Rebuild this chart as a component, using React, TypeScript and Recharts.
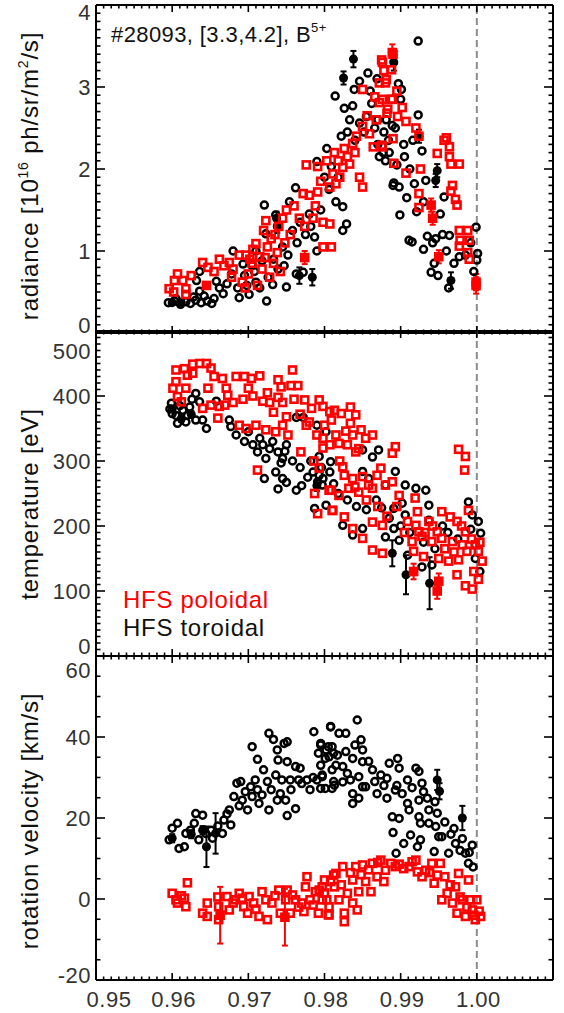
import { ScatterChart, Scatter, XAxis, YAxis, ReferenceLine, ErrorBar } from 'recharts'

// ---------- axes ----------
const xMajor = [0.95, 0.96, 0.97, 0.98, 0.99, 1.0, 1.01]
const xLabels = ['0.95', '0.96', '0.97', '0.98', '0.99', '1.00']
const radMajor = [0, 1, 2, 3, 4]
const teMajor = [0, 100, 200, 300, 400, 500]
const vMajor = [-20, 0, 20, 40, 60]

// ---------- radiance [1e16 ph/sr/m2/s] ----------
const radTor = [
  [0.9595, 0.37], [0.9603, 0.39], [0.9611, 0.35], [0.9618, 0.38], [0.9624, 0.36], [0.9631, 0.4], [0.9638, 0.37],
  [0.9646, 0.39], [0.9652, 0.36], [0.9605, 0.42], [0.9628, 0.44], [0.9636, 0.51], [0.9632, 0.64], [0.9636, 0.75],
  [0.9658, 0.63], [0.9667, 0.48], [0.968, 1.0], [0.9693, 0.84], [0.9688, 0.43], [0.9701, 0.47], [0.9715, 0.55],
  [0.9724, 0.39], [0.9732, 0.59], [0.9739, 0.78], [0.975, 0.56], [0.971, 0.62], [0.9695, 0.7], [0.9705, 0.82],
  [0.9718, 0.88], [0.9745, 1.05], [0.9768, 1.35], [0.971, 1.0], [0.9723, 1.21], [0.9721, 1.56], [0.9736, 1.44],
  [0.9739, 1.29], [0.9754, 1.6], [0.9762, 1.77], [0.978, 1.45], [0.9787, 1.17], [0.979, 1.0], [0.9763, 0.72],
  [0.9772, 0.74], [0.979, 2.09], [0.9803, 2.25], [0.9809, 2.03], [0.9815, 1.6], [0.9824, 1.54], [0.9824, 1.25],
  [0.9829, 1.33], [0.9814, 2.89], [0.9826, 2.74], [0.9837, 2.77], [0.9839, 2.97], [0.9846, 3.07], [0.9857, 3.17],
  [0.9833, 2.6], [0.9846, 2.56], [0.9855, 2.64], [0.987, 2.6], [0.9881, 2.6], [0.9872, 2.15], [0.9877, 2.2],
  [0.989, 1.8], [0.9923, 3.56], [0.9897, 3.04], [0.9901, 2.97], [0.99, 2.85], [0.9923, 2.66], [0.9889, 2.53],
  [0.9893, 2.5], [0.9928, 2.22], [0.987, 2.3], [0.988, 2.1], [0.9895, 2.05], [0.9905, 2.15], [0.9912, 2.0],
  [0.9885, 2.2], [0.9891, 1.83], [0.9898, 1.78], [0.9918, 1.82], [0.9933, 1.86], [0.9957, 1.66], [0.9899, 1.44],
  [0.9921, 1.48], [0.9911, 1.13], [0.9915, 1.11], [0.9935, 1.18], [0.9942, 1.1], [0.9946, 1.15], [0.9955, 1.2],
  [0.9964, 1.19], [0.993, 1.02], [0.9944, 0.85], [0.994, 0.74], [0.9949, 0.7], [0.9963, 0.55], [0.9999, 1.29],
  [1.0001, 0.97], [1.0, 0.89], [0.9977, 0.93],
  [0.9642, 0.45], [0.9655, 0.42], [0.9662, 0.55], [0.9672, 0.6], [0.9678, 0.72], [0.9686, 0.55], [0.9698, 0.58],
  [0.9708, 0.75], [0.9726, 0.68], [0.9733, 0.9], [0.9747, 0.82], [0.9752, 0.95], [0.9758, 1.25], [0.9764, 1.1],
  [0.9775, 1.2], [0.9782, 1.3], [0.9795, 1.5], [0.98, 1.9], [0.9806, 1.75], [0.9818, 1.9], [0.9822, 2.4],
  [0.983, 2.45], [0.984, 2.35], [0.9852, 2.45], [0.9862, 2.8], [0.9866, 2.5], [0.9878, 2.45], [0.9884, 2.35],
  [0.986, 2.95], [0.9869, 3.1], [0.9904, 2.3], [0.9916, 2.35], [0.9908, 1.65], [0.993, 1.6], [0.9952, 1.45],
  [0.996, 1.0], [0.997, 0.85], [0.9985, 0.95], [0.9992, 1.1], [0.9996, 0.75],
]
const radTorErr = [
  [0.9825, 3.11, 0.08], [0.9838, 3.34, 0.1], [0.9891, 3.3, 0.1], [0.9924, 2.4, 0.08], [0.9948, 1.98, 0.08],
  [0.9946, 1.86, 0.08], [0.9966, 0.64, 0.1], [0.9737, 1.4, 0.08], [0.9738, 1.3, 0.08], [0.9767, 0.7, 0.1],
  [0.9784, 0.68, 0.1], [0.96, 0.37, 0.03], [0.9612, 0.37, 0.03],
]
const radPol = [
  [0.9596, 0.54], [0.9603, 0.64], [0.9607, 0.72], [0.9614, 0.64], [0.9618, 0.54], [0.9618, 0.47], [0.964, 0.86],
  [0.9647, 0.8], [0.9662, 0.9], [0.9675, 0.86], [0.968, 0.78], [0.9678, 0.68], [0.9688, 0.95], [0.9697, 0.95],
  [0.9706, 1.02], [0.971, 1.09], [0.9692, 0.62], [0.97, 0.72], [0.9705, 0.85], [0.9712, 0.58], [0.9718, 0.78],
  [0.9722, 0.92], [0.9728, 0.68], [0.9733, 0.85], [0.9738, 0.98], [0.9742, 0.75], [0.9696, 0.55], [0.9715, 0.93],
  [0.9723, 1.37], [0.972, 1.25], [0.973, 1.15], [0.974, 1.3], [0.9748, 1.1], [0.9755, 1.2], [0.975, 1.5],
  [0.9767, 1.4], [0.9774, 1.3], [0.9785, 1.4], [0.9798, 1.35], [0.9807, 1.33], [0.9772, 1.7], [0.978, 1.68],
  [0.9791, 1.72], [0.9807, 1.78], [0.9815, 1.82], [0.9776, 2.05], [0.9791, 2.03], [0.9798, 1.05], [0.9809, 1.05],
  [0.9811, 1.94], [0.9824, 2.02], [0.9833, 2.06], [0.9826, 2.25], [0.9837, 2.31], [0.9818, 2.1], [0.983, 2.15],
  [0.984, 2.2], [0.982, 1.9], [0.9842, 2.4], [0.985, 2.52], [0.9859, 2.43], [0.9864, 2.27], [0.9875, 2.29],
  [0.985, 2.97], [0.9866, 2.88], [0.9872, 2.81], [0.9883, 2.73], [0.9888, 2.85], [0.9872, 3.05], [0.9881, 3.09],
  [0.9888, 3.21], [0.9875, 3.33], [0.989, 3.4], [0.985, 1.78], [0.9846, 1.9], [0.9876, 3.3], [0.9878, 3.2],
  [0.988, 3.05], [0.9876, 2.85], [0.9889, 2.85], [0.9882, 2.68], [0.9896, 2.64], [0.9907, 2.58], [0.992, 2.5],
  [0.9924, 2.4], [0.989, 2.37], [0.9876, 2.27], [0.9891, 2.07], [0.9907, 1.95], [0.9926, 2.0], [0.9948, 2.19],
  [0.9957, 2.35], [0.996, 2.38], [0.9964, 2.27], [0.9964, 2.15], [0.9966, 2.06], [0.9977, 2.06], [0.9968, 1.8],
  [0.9966, 1.73], [0.9972, 1.63], [0.9974, 1.56], [0.9924, 1.7], [0.9924, 1.53], [0.9977, 1.25], [0.9988, 1.25],
  [0.9978, 1.13], [0.999, 1.13], [0.9977, 1.06], [0.9988, 0.98], [0.999, 0.9],
  [0.9602, 0.5], [0.9625, 0.7], [0.9655, 0.75], [0.9668, 0.82], [0.9702, 0.9], [0.9725, 1.05], [0.9735, 1.2],
  [0.9745, 1.4], [0.976, 1.55], [0.9788, 1.55], [0.9795, 1.85], [0.9803, 2.1], [0.9813, 2.2], [0.9856, 2.65],
  [0.9868, 2.6], [0.9895, 2.95], [0.9902, 2.75],
]
const radPolErr = [
  [0.9889, 3.42, 0.1], [0.994, 1.56, 0.08], [0.9942, 1.4, 0.08], [0.995, 0.93, 0.08], [0.9999, 0.62, 0.1],
  [0.9999, 0.58, 0.1], [0.9774, 0.92, 0.08], [0.9645, 0.58, 0.03],
]

// ---------- temperature [eV] ----------
const teTor = [
  [0.9599, 389], [0.96, 373], [0.9607, 358], [0.9605, 370], [0.9614, 378], [0.9618, 360], [0.9623, 383],
  [0.9597, 380], [0.961, 385], [0.962, 370], [0.9626, 395], [0.9631, 404], [0.9636, 391], [0.9631, 363],
  [0.9645, 350], [0.964, 363], [0.9658, 392], [0.9675, 363], [0.9677, 353], [0.9684, 340], [0.9695, 330],
  [0.9706, 325], [0.9712, 314], [0.9719, 325], [0.9723, 304], [0.9728, 319], [0.9739, 314], [0.9745, 304],
  [0.975, 325], [0.9721, 273], [0.9736, 283], [0.9743, 297], [0.9745, 273], [0.975, 267], [0.9739, 257],
  [0.9763, 255], [0.9763, 367], [0.9772, 367], [0.979, 355], [0.9802, 345], [0.9778, 275], [0.9785, 283],
  [0.9791, 268], [0.9798, 273], [0.9807, 283], [0.9787, 227], [0.9802, 232], [0.9793, 307], [0.9808, 299],
  [0.9797, 263], [0.9793, 278], [0.985, 317], [0.9863, 306], [0.9871, 317], [0.985, 284], [0.9858, 273],
  [0.988, 263], [0.9893, 284], [0.9906, 263], [0.992, 258], [0.9933, 255], [0.9937, 232], [0.9824, 201],
  [0.9837, 186], [0.985, 196], [0.9885, 212], [0.9891, 196], [0.9898, 178], [0.988, 183], [0.9891, 227],
  [0.9902, 235], [0.9906, 217], [0.9937, 209], [0.9989, 237], [0.9994, 217], [1.0002, 207], [1.0005, 189],
  [0.9998, 171], [0.9909, 155], [0.9928, 137], [0.9941, 140],
  [0.97, 345], [0.9715, 335], [0.9732, 330], [0.9748, 315], [0.9758, 300], [0.9768, 290], [0.977, 262],
  [0.9782, 300], [0.9796, 290], [0.9812, 265], [0.9818, 250], [0.983, 240], [0.9842, 230], [0.9855, 225],
  [0.9868, 240], [0.9875, 228], [0.99, 200], [0.9912, 190], [0.993, 175], [0.9945, 165], [0.9955, 200],
  [0.9962, 190], [0.9975, 180], [0.9992, 195], [0.9998, 150], [1.0004, 130],
]
const teTorErr = [
  [0.9889, 158, 20], [0.9907, 125, 30], [0.9938, 112, 40], [0.96, 380, 5], [0.9612, 365, 5], [0.9625, 372, 5],
  [0.979, 262, 8],
]
const tePol = [
  [0.9605, 440], [0.9616, 442], [0.9627, 449], [0.9636, 450], [0.9645, 450], [0.9651, 443], [0.9601, 412],
  [0.9605, 422], [0.9607, 399], [0.9612, 391], [0.9618, 412], [0.962, 432], [0.9627, 435], [0.9647, 412],
  [0.9655, 430], [0.964, 381], [0.9651, 386], [0.9662, 384], [0.9669, 386], [0.966, 366], [0.9666, 427],
  [0.9671, 412], [0.9673, 401], [0.9684, 430], [0.9695, 430], [0.9704, 427], [0.9715, 431], [0.968, 390],
  [0.9693, 395], [0.9706, 400], [0.9719, 392], [0.9728, 390], [0.9739, 398], [0.9745, 390], [0.9688, 355],
  [0.9697, 350], [0.971, 355], [0.9723, 348], [0.9736, 345], [0.9745, 355], [0.9752, 340], [0.9739, 425],
  [0.9743, 414], [0.9756, 416], [0.9765, 416], [0.9758, 440], [0.9774, 394], [0.9783, 381], [0.9793, 394],
  [0.9798, 384], [0.9807, 376], [0.9809, 363], [0.9776, 355], [0.979, 340], [0.9798, 335], [0.9807, 325],
  [0.9798, 320], [0.9769, 314], [0.9793, 289], [0.9712, 286], [0.9787, 250], [0.9809, 255], [0.9791, 219],
  [0.9811, 224], [0.9813, 378], [0.9822, 373], [0.9834, 383], [0.9841, 371], [0.9834, 358], [0.98, 355],
  [0.9815, 340], [0.9819, 327], [0.9828, 346], [0.9837, 340], [0.9848, 348], [0.9854, 335], [0.9863, 340],
  [0.983, 325], [0.9841, 314], [0.9845, 319], [0.9893, 322], [0.9889, 312], [0.9824, 291], [0.9826, 278],
  [0.9837, 273], [0.985, 276], [0.9858, 263], [0.9869, 278], [0.9874, 289], [0.9806, 255], [0.9819, 247],
  [0.9832, 258], [0.9845, 252], [0.9863, 258], [0.988, 263], [0.9889, 268], [0.9898, 247], [0.981, 224],
  [0.9826, 214], [0.9837, 196], [0.985, 181], [0.9863, 206], [0.9876, 201], [0.9863, 163], [0.9876, 158],
  [0.9919, 243], [0.9922, 222], [0.9909, 207], [0.992, 201], [0.9924, 191], [0.9937, 207], [0.9948, 191],
  [0.9954, 222], [0.9965, 214], [0.9974, 207], [0.9985, 191], [0.9989, 224], [0.9915, 176], [0.9928, 184],
  [0.9941, 176], [0.9954, 181], [0.9968, 176], [0.9981, 171], [0.9917, 161], [0.993, 153], [0.995, 150],
  [0.9963, 146], [0.9976, 148], [0.9987, 161], [0.9998, 171], [1.0002, 161], [1.0007, 146], [0.9974, 125],
  [0.9985, 108], [0.9994, 103], [1.0002, 118], [0.9996, 130], [0.9976, 318], [0.9985, 307], [0.9984, 286],
  [0.97, 412], [0.9725, 405], [0.9733, 375], [0.975, 368], [0.976, 395], [0.9768, 372], [0.978, 360],
  [0.9786, 300], [0.982, 300], [0.984, 260], [0.9855, 240], [0.987, 230], [0.9882, 215], [0.9895, 230],
  [0.9905, 190], [0.9932, 190], [0.9942, 200], [0.9958, 165], [0.997, 160], [0.998, 200], [0.9993, 180],
  [1.0004, 175],
]
const tePolErr = [
  [0.9917, 130, 12], [0.995, 115, 12], [0.9948, 100, 12],
]

// ---------- rotation velocity [km/s] ----------
const vTor = [
  [0.9596, 14.6], [0.96, 17.5], [0.9607, 18.7], [0.9609, 12.5], [0.9616, 12.9], [0.9618, 16.2], [0.9624, 17.0],
  [0.9629, 18.7], [0.9631, 21.1], [0.964, 20.7], [0.9635, 14.6], [0.9644, 16.2], [0.9651, 17.0], [0.9653, 15.0],
  [0.9666, 16.2], [0.9668, 19.5], [0.9675, 22.0], [0.9677, 18.3], [0.9681, 25.3], [0.9685, 28.6], [0.969, 29.0],
  [0.9692, 24.4], [0.9699, 22.0], [0.9703, 27.7], [0.9705, 25.3], [0.9709, 29.4], [0.9714, 23.6], [0.9718, 25.7],
  [0.972, 31.9], [0.9725, 29.0], [0.9727, 22.0], [0.9736, 30.6], [0.9738, 24.4], [0.9744, 29.4], [0.9749, 24.4],
  [0.9751, 20.6], [0.9762, 22.3], [0.9705, 37.6], [0.9712, 34.5], [0.9727, 40.9], [0.9733, 39.4], [0.9738, 36.8],
  [0.9739, 34.3], [0.9747, 38.4], [0.9751, 38.8], [0.9751, 33.9], [0.9762, 32.7], [0.9768, 32.3], [0.9755, 29.4],
  [0.9766, 29.4], [0.9777, 29.4], [0.9781, 27.0], [0.979, 29.4], [0.9797, 30.6], [0.9801, 27.3], [0.981, 27.3],
  [0.9812, 29.0], [0.9786, 41.3], [0.9795, 38.0], [0.9792, 36.0], [0.9801, 34.7], [0.9805, 37.6], [0.9808, 42.5],
  [0.9812, 36.0], [0.9808, 42.6], [0.9819, 40.9], [0.9828, 40.9], [0.9843, 44.2], [0.9848, 39.3], [0.985, 36.8],
  [0.9795, 38.4], [0.9802, 36.8], [0.981, 37.6], [0.9806, 35.1], [0.9817, 35.5], [0.9828, 36.4], [0.9837, 34.7],
  [0.985, 33.9], [0.9797, 30.2], [0.9813, 28.1], [0.9824, 28.9], [0.9834, 29.4], [0.9845, 30.2], [0.985, 27.7],
  [0.9837, 26.0], [0.9845, 24.9], [0.9837, 23.6], [0.9854, 27.7], [0.981, 31.9], [0.9824, 32.7], [0.9795, 27.3],
  [0.9863, 31.9], [0.9874, 30.6], [0.9882, 29.8], [0.9885, 33.5], [0.9896, 34.7], [0.9898, 32.3], [0.9909, 29.4],
  [0.992, 32.3], [0.9924, 31.5], [0.9928, 28.6], [0.9869, 26.0], [0.9882, 24.9], [0.9893, 26.9], [0.9902, 26.0],
  [0.9909, 23.6], [0.9911, 22.0], [0.9924, 24.4], [0.9935, 24.9], [0.9889, 20.3], [0.9898, 19.9], [0.9924, 20.3],
  [0.9926, 18.7], [0.9937, 22.0], [0.9937, 18.7], [0.9948, 21.2], [0.9946, 17.9], [0.995, 15.4], [0.9954, 15.4],
  [0.989, 16.4], [0.9904, 13.7], [0.9913, 15.8], [0.9922, 12.9], [0.9926, 14.6], [0.9944, 11.7], [0.9963, 11.3],
  [0.997, 17.4], [0.9972, 13.7], [0.9981, 14.9], [0.9985, 11.3], [0.9994, 13.3], [0.9989, 8.8], [0.9995, 7.9],
  [0.9894, 11.3],
  [0.966, 18], [0.9672, 21], [0.9688, 23], [0.9696, 26.5], [0.9712, 27], [0.973, 27], [0.9742, 26],
  [0.9756, 27], [0.977, 28.5], [0.9785, 30], [0.9795, 33], [0.9815, 33], [0.983, 31], [0.984, 38],
  [0.9858, 34], [0.9866, 29], [0.9878, 28], [0.9895, 28], [0.9915, 27.5], [0.993, 26.5], [0.9945, 24],
  [0.9958, 19], [0.9966, 16], [0.9978, 12], [0.999, 11.5],
]
const vTorErr = [
  [0.9645, 12.9, 5], [0.9657, 16.2, 5], [0.9948, 29.4, 2.5], [0.9951, 26.6, 2], [0.9981, 20.0, 3],
  [0.96, 15.0, 1], [0.9625, 16.0, 1], [0.964, 17.0, 1],
]
const vPol = [
  [0.96, 1.4], [0.9605, -0.2], [0.9607, -1.0], [0.9616, 0.2], [0.9618, -1.9], [0.962, 4.0], [0.964, -3.5],
  [0.9646, -1.0], [0.9646, -4.3], [0.9661, -1.9], [0.9661, -5.1], [0.9672, 0.6], [0.9675, -2.7], [0.9683, -0.2],
  [0.9688, 1.4], [0.9694, -1.9], [0.9699, -3.5], [0.9701, 0.6], [0.9707, -1.0], [0.9714, -4.3], [0.9718, 1.8],
  [0.9723, -0.2], [0.9725, -5.1], [0.9731, -1.0], [0.974, 2.2], [0.9742, -3.5], [0.9749, -0.2], [0.9751, 2.2],
  [0.9755, -3.5], [0.9762, -0.2], [0.977, -1.0], [0.9773, -3.1], [0.9775, 3.0], [0.9777, 5.5], [0.9781, -0.2],
  [0.9788, 1.8], [0.9792, -3.5], [0.9797, 3.0], [0.9803, -0.2], [0.9808, 4.3], [0.9805, -3.9], [0.9812, 5.9],
  [0.9793, 2.2], [0.98, 4.7], [0.9797, -0.2], [0.9806, -1.9], [0.9806, -3.9], [0.9813, 3.0], [0.9815, 6.3],
  [0.9819, -0.2], [0.9824, 8.0], [0.9826, -3.5], [0.9826, -5.6], [0.983, 1.4], [0.9837, 4.7], [0.9837, -1.0],
  [0.9841, 8.0], [0.9843, -2.7], [0.9845, 1.8], [0.985, 8.4], [0.9854, 4.3], [0.9861, 1.8], [0.9863, 8.8],
  [0.9869, 5.5], [0.9874, 9.6], [0.9878, 4.3], [0.988, 7.1], [0.9887, 8.8], [0.9893, 8.0], [0.9904, 7.5],
  [0.9911, 8.0], [0.992, 9.6], [0.9922, 6.7], [0.9928, 5.5], [0.9933, 7.1], [0.9941, 8.8], [0.9944, 3.9],
  [0.9952, 8.8], [0.9948, 5.9], [0.9954, -0.2], [0.9961, 1.4], [0.9968, -1.0], [0.9972, 3.0], [0.9974, -3.5],
  [0.9976, 6.3], [0.9981, -0.2], [0.9985, -4.3], [0.9989, 4.7], [0.9992, -0.2], [0.9994, -2.7], [0.9998, -5.1],
  [1.0, -0.2], [1.0005, -4.3],
  [0.9612, 0.8], [0.966, 0.5], [0.968, -1], [0.9692, 0.2], [0.971, -2.5], [0.9735, 0.8], [0.9758, 1.0],
  [0.9766, -2], [0.9785, -1.5], [0.98, 1.5], [0.9822, 3.5], [0.9834, 6.5], [0.9848, 6], [0.9858, 7.2],
  [0.987, 9], [0.9898, 8.6], [0.9915, 9.2], [0.9938, 6.5], [0.9958, 5.5], [0.9965, 3.5], [0.9978, 0.5],
  [0.9987, -2], [0.9996, -4], [1.0003, -3],
]
const vPolErr = [
  [0.9663, -4.0, 7], [0.9748, -4.5, 7],
]

const FONT = '"Liberation Sans", Arial, sans-serif'
const PLOT_W = 457
const PAD = 20

const pts = (a: number[][]) => a.map(([x, y, err]) => ({ x, y, err }))

const near = (list: number[], v: number) => list.findIndex((m) => Math.abs(m - v) < 1e-7)

function stepTicks(lo: number, hi: number, step: number) {
  const n = Math.round((hi - lo) / step)
  return Array.from({ length: n + 1 }, (_, i) => Math.round((lo + i * step) * 10000) / 10000)
}

const openCircle = (p: any) => (
  <circle cx={p.cx} cy={p.cy} r={3.5} fill="none" stroke="#000" strokeWidth={2.5} />
)
const filledCircle = (p: any) => <circle cx={p.cx} cy={p.cy} r={4.5} fill="#000" />
const openSquare = (p: any) => (
  <rect x={p.cx - 3.5} y={p.cy - 3.5} width={7} height={7} fill="none" stroke="#ff0000" strokeWidth={2.6} />
)
const filledSquare = (p: any) => <rect x={p.cx - 4.8} y={p.cy - 4.8} width={9.6} height={9.6} fill="#ff0000" />

function Panel({
  top,
  height,
  domain,
  minor,
  yMajor,
  shift,
  xLabelsOn,
  tor,
  torErr,
  pol,
  polErr,
}: {
  top: number
  height: number
  domain: [number, number]
  minor: number
  yMajor: number[]
  shift: [number, number]
  xLabelsOn: boolean
  tor: number[][]
  torErr: number[][]
  pol: number[][]
  polErr: number[][]
}) {
  const bottomPad = xLabelsOn ? 40 : PAD
  const xTicks = stepTicks(0.95, 1.01, 0.001)
  const yTicks = stepTicks(domain[0], domain[1], minor)

  const xTick = (p: any) => {
    const v = p.payload.value
    const mi = near(xMajor, v)
    const len = mi >= 0 ? 7 : 3.5
    const label = mi >= 0 && xLabelsOn && mi < xLabels.length ? xLabels[mi] : null
    return (
      <g>
        <line x1={p.x} x2={p.x} y1={p.y} y2={p.y - len} stroke="#000" strokeWidth={1.6} />
        <line x1={p.x} x2={p.x} y1={p.y - height} y2={p.y - height + len} stroke="#000" strokeWidth={1.6} />
        {label && (
          <text x={p.x + (mi === 0 ? 13 : 1.5)} y={p.y + 27} textAnchor="middle" fontSize={22}
            letterSpacing={0.5} fontFamily={FONT} fill="#333">
            {label}
          </text>
        )}
      </g>
    )
  }

  const yTick = (p: any) => {
    const v = p.payload.value
    const mi = near(yMajor, v)
    const len = mi >= 0 ? 9 : 4.5
    let dy = 0
    if (mi === yMajor.length - 1) dy = shift[0]
    if (mi === 0) dy = shift[1]
    return (
      <g>
        <line x1={p.x} x2={p.x + len} y1={p.y} y2={p.y} stroke="#000" strokeWidth={1.6} />
        <line x1={p.x + PLOT_W} x2={p.x + PLOT_W - len} y1={p.y} y2={p.y} stroke="#000" strokeWidth={1.6} />
        {mi >= 0 && (
          <text x={p.x - 5} y={p.y + dy + 8} textAnchor="end" fontSize={22} letterSpacing={0.5}
            fontFamily={FONT} fill="#333">
            {String(v)}
          </text>
        )}
      </g>
    )
  }

  return (
    <div style={{ position: 'absolute', left: 0, top: top - PAD }}>
      <ScatterChart width={564} height={height + PAD + bottomPad}
        margin={{ top: PAD, right: 11, bottom: bottomPad - 1, left: 95 }}>
        <XAxis dataKey="x" type="number" domain={[0.95, 1.01]} allowDataOverflow ticks={xTicks} interval={0}
          height={1} tickSize={0} tickMargin={0} tickLine={false}
          axisLine={{ stroke: '#000', strokeWidth: 2 }} tick={xTick} />
        <YAxis dataKey="y" type="number" domain={domain} allowDataOverflow ticks={yTicks} interval={0}
          width={1} tickSize={0} tickMargin={0} tickLine={false}
          axisLine={{ stroke: '#000', strokeWidth: 2 }} tick={yTick} />
        <ReferenceLine y={domain[1]} stroke="#000" strokeWidth={2} />
        <ReferenceLine x={1.01} stroke="#000" strokeWidth={2} />
        <ReferenceLine x={1.0} stroke="#8c8c8c" strokeWidth={2} strokeDasharray="7 4" />
        <Scatter data={pts(tor)} shape={openCircle} isAnimationActive={false} />
        <Scatter data={pts(torErr)} shape={filledCircle} isAnimationActive={false}>
          <ErrorBar dataKey="err" direction="y" width={3} stroke="#000" strokeWidth={2} />
        </Scatter>
        <Scatter data={pts(pol)} shape={openSquare} isAnimationActive={false} />
        <Scatter data={pts(polErr)} shape={filledSquare} isAnimationActive={false}>
          <ErrorBar dataKey="err" direction="y" width={3} stroke="#ff0000" strokeWidth={2} />
        </Scatter>
      </ScatterChart>
    </div>
  )
}

export default function App() {
  return (
    <div style={{ position: 'absolute', left: 0, top: 0, width: 564, height: 1013, background: '#fff', fontFamily: FONT }}>
      <Panel top={5} height={328} domain={[0, 4]} minor={0.1} yMajor={radMajor} shift={[7, -8]}
        xLabelsOn={false} tor={radTor} torErr={radTorErr} pol={radPol} polErr={radPolErr} />
      <Panel top={331} height={325} domain={[0, 500]} minor={10} yMajor={teMajor} shift={[20, -10]}
        xLabelsOn={false} tor={teTor} torErr={teTorErr} pol={tePol} polErr={tePolErr} />
      <Panel top={656} height={324} domain={[-20, 60]} minor={5} yMajor={vMajor} shift={[14, -5]}
        xLabelsOn tor={vTor} torErr={vTorErr} pol={vPol} polErr={vPolErr} />
      <svg width={564} height={1013} style={{ position: 'absolute', left: 0, top: 0, pointerEvents: 'none' }}
        fontFamily={FONT}>
        <text x={111} y={42} fontSize={22} letterSpacing={0.4} fill="#111">
          #28093, [3.3,4.2], B<tspan fontSize={13} dy={-10}>5+</tspan>
        </text>
        <text x={38} y={176} transform="rotate(-90 38 176)" textAnchor="middle" fontSize={24}
          letterSpacing={0.8} fill="#111">
          radiance [10<tspan fontSize={14} dy={-10}>16</tspan>
          <tspan dy={10}> ph/sr/m</tspan>
          <tspan fontSize={14} dy={-10}>2</tspan>
          <tspan dy={10}>/s]</tspan>
        </text>
        <text x={38} y={504} transform="rotate(-90 38 504)" textAnchor="middle" fontSize={24}
          letterSpacing={0.8} fill="#111">
          temperature [eV]
        </text>
        <text x={38} y={821} transform="rotate(-90 38 821)" textAnchor="middle" fontSize={24}
          letterSpacing={0.8} fill="#111">
          rotation velocity [km/s]
        </text>
        <text x={123} y={608} fontSize={24} letterSpacing={0.7} fill="#ff0000">HFS poloidal</text>
        <text x={123} y={636} fontSize={24} letterSpacing={0.7} fill="#111">HFS toroidal</text>
      </svg>
    </div>
  )
}
